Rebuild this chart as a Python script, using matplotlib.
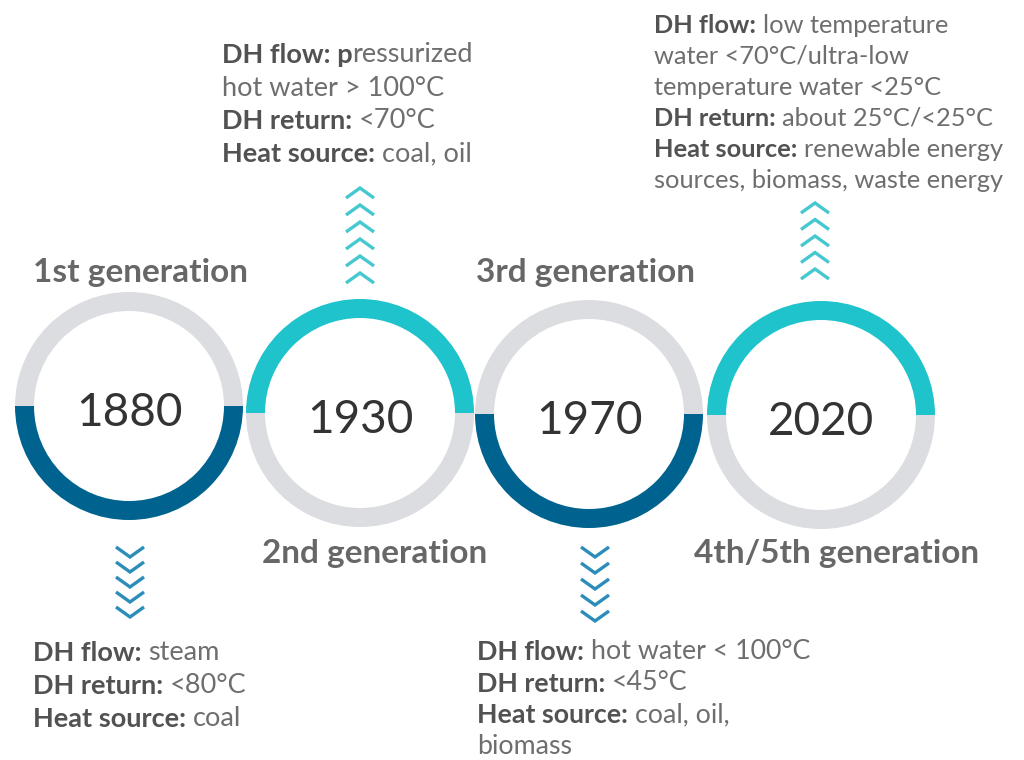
import matplotlib
matplotlib.use("Agg")
import matplotlib.pyplot as plt
from matplotlib.patches import Wedge

# ---------------- data ----------------
years = ["1880", "1930", "1970", "2020"]
generations = ["1st generation", "2nd generation", "3rd generation", "4th/5th generation"]
top_half = ["grey", "cyan", "grey", "cyan"]
bottom_half = ["dark", "grey", "dark", "grey"]
chevron_dir = ["down", "up", "down", "up"]
chevron_count = [5, 6, 5, 5]

info_1880 = [("DH flow:", "steam"), ("DH return:", "<80°C"), ("Heat source:", "coal")]
info_1930 = [("DH flow: p", "ressurized"), ("", "hot water > 100°C"),
             ("DH return:", "<70°C"), ("Heat source:", "coal, oil")]
info_1970 = [("DH flow:", "hot water < 100°C"), ("DH return:", "<45°C"),
             ("Heat source:", "coal, oil,"), ("", "biomass")]
info_2020 = [("DH flow:", "low temperature"), ("", "water <70°C/ultra-low"),
             ("", "temperature water <25°C"), ("DH return:", "about 25°C/<25°C"),
             ("Heat source:", "renewable energy"), ("", "sources, biomass, waste energy")]
infos = [info_1880, info_1930, info_1970, info_2020]

# ---------------- style / layout ----------------
COL = {"grey": "#dcdde1", "cyan": "#1ec3cc", "dark": "#00628f"}
CHEV_COL = {"down": "#2b8db8", "up": "#45c8d0"}
FONT = "Lato"
BOLD_C = "#525252"
REG_C = "#6e6e6e"

cx = [129, 360, 589, 821]
cy = [406, 413, 414, 415]
R_OUT, RING_W = 114, 19

gen_x = [33, 262, 476, 694]
gen_base = [282, 563, 282, 563]

info_x = [33, 222, 477, 654]
info_first = [661, 63, 660, 33]
info_step = [33, 33, 31.5, 31]
info_size = [19.5, 19.5, 19.3, 18.3]

chev_x = [130, 360, 595, 815]
chev_start = [557, 188, 557, 203]
chev_step = [15, 17, 16, 16.5]
CHEV_HW, CHEV_H = 14, 10

fig = plt.figure(figsize=(10.24, 7.6), dpi=100)
ax = fig.add_axes([0, 0, 1, 1])
ax.set_xlim(0, 1024)
ax.set_ylim(760, 0)
ax.axis("off")

for i in range(4):
    # y axis is inverted: angles 180..360 are the upper half on screen
    ax.add_patch(Wedge((cx[i], cy[i]), R_OUT, 180, 360, width=RING_W,
                       facecolor=COL[top_half[i]], edgecolor="none"))
    ax.add_patch(Wedge((cx[i], cy[i]), R_OUT, 0, 180, width=RING_W,
                       facecolor=COL[bottom_half[i]], edgecolor="none"))
    ax.text(cx[i], cy[i] + 20, years[i], ha="center", va="baseline",
            fontsize=33, family=FONT, color="#333333")
    ax.text(gen_x[i], gen_base[i], generations[i], ha="left", va="baseline",
            fontsize=24, family=FONT, fontweight="bold", color="#676767")

    # chevrons
    for k in range(chevron_count[i]):
        t = chev_start[i] + k * chev_step[i]
        xs = [chev_x[i] - CHEV_HW, chev_x[i], chev_x[i] + CHEV_HW]
        if chevron_dir[i] == "down":
            ys = [t - CHEV_H, t, t - CHEV_H]
        else:
            ys = [t + CHEV_H, t, t + CHEV_H]
        ax.plot(xs, ys, color=CHEV_COL[chevron_dir[i]], lw=2.4,
                solid_joinstyle="miter", solid_capstyle="butt")

    # info text blocks
    fs = info_size[i]
    for j, (b, r) in enumerate(infos[i]):
        y = info_first[i] + j * info_step[i]
        if b:
            bt = ax.text(info_x[i], y, b, ha="left", va="baseline", fontsize=fs,
                         family=FONT, fontweight="bold", color=BOLD_C)
            gap = 4.8 if b.endswith(":") else 0
            ax.annotate(r, xy=(1, 0), xycoords=bt, xytext=(gap, 0),
                        textcoords="offset points", ha="left", va="bottom",
                        fontsize=fs, family=FONT, color=REG_C)
        else:
            ax.text(info_x[i], y, r, ha="left", va="baseline", fontsize=fs,
                    family=FONT, color=REG_C)

fig.savefig("out.png", dpi=100)
